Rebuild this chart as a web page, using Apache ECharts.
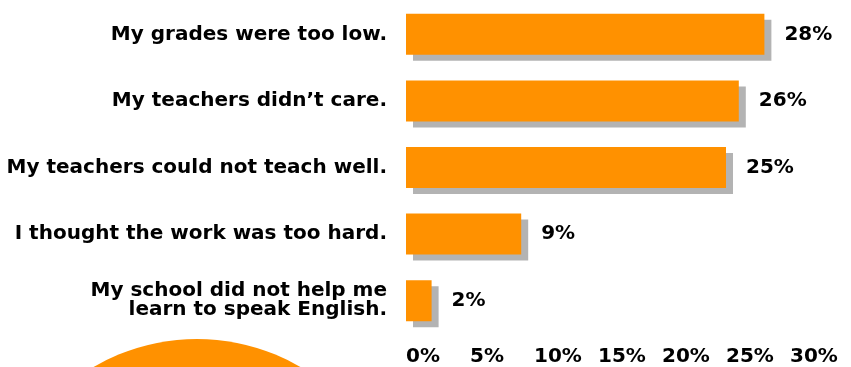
<!DOCTYPE html>
<html><head><meta charset="utf-8">
<script src="https://cdn.jsdelivr.net/npm/echarts@6/dist/echarts.min.js"></script>
<style>html,body{margin:0;padding:0;background:#fff}#c{width:851px;height:367px}</style>
</head><body><div id="c"></div>
<script>
const categories = [
  "My grades were too low.",
  "My teachers didn\u2019t care.",
  "My teachers could not teach well.",
  "I thought the work was too hard.",
  "My school did not help me\nlearn to speak English."
];
const values = [28, 26, 25, 9, 2];
const tickValues = [0, 5, 10, 15, 20, 25, 30];

const chart = echarts.init(document.getElementById('c'), null, {renderer: 'canvas'});
const font = '"DejaVu Sans", sans-serif';
chart.setOption({
  animation: false,
  backgroundColor: '#ffffff',
  graphic: [{
    type: 'circle', z: -1,
    shape: {cx: 197, cy: 544, r: 205},
    style: {fill: '#FF9100'}
  }],
  grid: {left: 406, right: 61, top: 1, bottom: 33, containLabel: false},
  xAxis: {
    type: 'value', min: 0, max: 30, interval: 5,
    axisLine: {show: false}, axisTick: {show: false}, splitLine: {show: false},
    axisLabel: {
      formatter: v => tickValues.includes(v) ? v + '%' : '',
      align: 'left', margin: 13,
      color: '#000', fontFamily: font, fontWeight: 'bold', fontSize: 20
    }
  },
  yAxis: {
    type: 'category', data: categories, inverse: true,
    axisLine: {show: false}, axisTick: {show: false}, splitLine: {show: false},
    axisLabel: {
      margin: 19, color: '#000', fontFamily: font, fontWeight: 'bold',
      fontSize: 20, lineHeight: 19, align: 'right'
    }
  },
  series: [{
    type: 'bar', data: values, barWidth: 41,
    itemStyle: {
      color: '#FF9100', shadowColor: '#B3B3B3',
      shadowBlur: 0, shadowOffsetX: 7, shadowOffsetY: 6
    },
    label: {
      show: true, position: 'right', distance: 20, formatter: '{c}%',
      color: '#000', fontFamily: font, fontWeight: 'bold', fontSize: 20
    }
  }]
});
</script></body></html>
